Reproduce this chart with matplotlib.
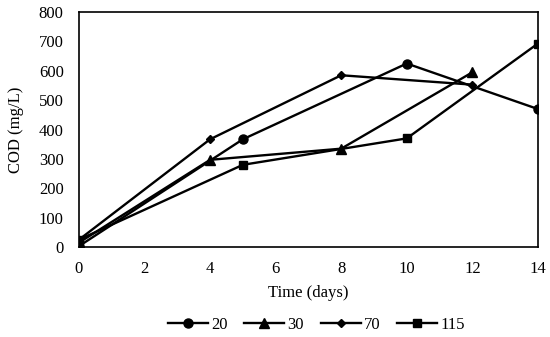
import matplotlib
matplotlib.use("Agg")
import matplotlib.pyplot as plt

plt.rcParams['font.family'] = ['Liberation Serif', 'DejaVu Serif']

days_a = [0, 5, 10, 14]
days_b = [0, 4, 8, 12]
cod_20 = [3, 367, 625, 470]
cod_30 = [15, 297, 335, 595]
cod_70 = [25, 367, 585, 553]
cod_115 = [25, 280, 370, 693]
labels = ['20', '30', '70', '115']

fig = plt.figure(figsize=(5.5, 3.37), dpi=100)
ax = fig.add_axes([0.1436, 0.267, 0.8344, 0.697])

ax.plot(days_a, cod_20, color='black', lw=1.7, marker='o', ms=6.5, label=labels[0])
ax.plot(days_b, cod_30, color='black', lw=1.7, marker='^', ms=6.5, label=labels[1])
ax.plot(days_b, cod_70, color='black', lw=1.7, marker='D', ms=4.2, label=labels[2])
ax.plot(days_a, cod_115, color='black', lw=1.7, marker='s', ms=6, label=labels[3])

ax.set_xlim(0, 14)
ax.set_ylim(0, 800)
ax.set_xticks(range(0, 15, 2))
ax.set_yticks(range(0, 801, 100))
ax.tick_params(length=0, labelsize=12)
ax.tick_params(axis='x', pad=10)
ax.tick_params(axis='y', pad=11)
for s in ax.spines.values():
    s.set_linewidth(1.2)
ax.set_xlabel('Time (days)', fontsize=12, labelpad=6)
ax.set_ylabel('COD (mg/L)', fontsize=12, labelpad=11)

fig.legend(loc='center', bbox_to_anchor=(0.575, 0.036), ncol=4, frameon=False,
           fontsize=12, handlelength=2.4, columnspacing=1.0, handletextpad=0.2)

fig.savefig('out.png', dpi=100)
